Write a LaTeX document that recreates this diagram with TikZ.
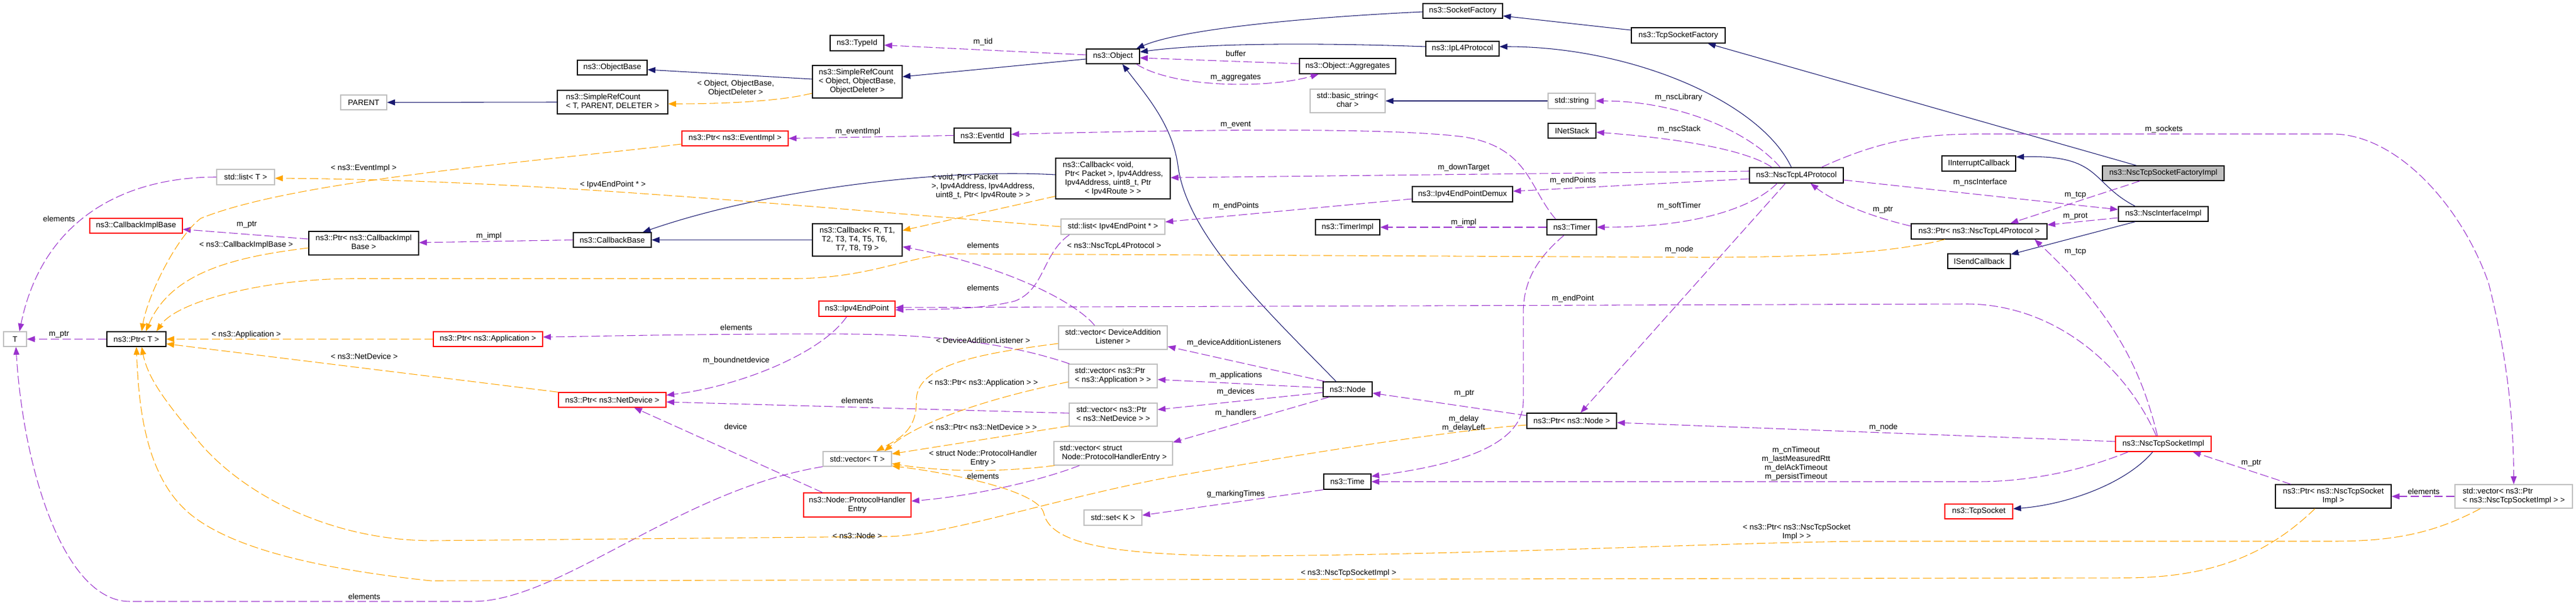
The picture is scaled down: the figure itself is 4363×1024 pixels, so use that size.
\documentclass[tikz,border=0pt]{standalone}
\usepackage{fontspec}
\setmainfont{Liberation Sans}
\usetikzlibrary{arrows.meta,calc}
\definecolor{inhc}{HTML}{191970}
\definecolor{usec}{HTML}{9A32CD}
\definecolor{tplc}{HTML}{FFA500}
\definecolor{grayb}{HTML}{BFBFBF}
\definecolor{redb}{HTML}{FF0000}
\newcommand\ml[1]{\begin{tabular}{@{}l@{}}#1\end{tabular}}
\newcommand\lc[1]{\multicolumn{1}{@{}c@{}}{#1}}
\newcommand\bx[7]{\node[#1, minimum width={(#5-#3)*0.75pt}, minimum height={(#6-#4)*0.75pt}] (#2) at ({(#3+#5)/2},{(#4+#6)/2}) {#7};}
\newcommand\lb[4]{\node[lbl] (#1) at (#2,#3) {#4};}
\begin{document}
\begin{tikzpicture}[x=0.75pt,y=-0.75pt,
 box/.style={draw=black, line width=1pt, fill=white, inner sep=1pt, font=\fontsize{10}{11.25}\selectfont, align=center},
 gbox/.style={box, draw=grayb},
 rbox/.style={box, draw=redb},
 tbox/.style={box, fill=grayb},
 lbl/.style={inner sep=0pt, font=\fontsize{10}{11.25}\selectfont, align=center},
 inher/.style={draw=inhc, line width=0.8pt, -{Triangle[length=10pt,width=7.5pt]}},
 usage/.style={draw=usec, line width=0.8pt, dash pattern=on 11pt off 4pt, -{Triangle[length=10pt,width=7.5pt]}},
 tmpl/.style={draw=tplc, line width=0.8pt, dash pattern=on 11pt off 4pt, -{Triangle[length=10pt,width=7.5pt]}}]
\fill[white] (0,0) rectangle (4363,1024);
\useasboundingbox (0,0) rectangle (4363,1024);
% ---------------- nodes
\bx{gbox}{T}{6}{562}{45}{587}{T}
\bx{box}{PtrT}{181}{562}{281}{587}{ns3::Ptr< T >}
\bx{gbox}{listT}{367}{287}{465}{313}{std::list< T >}
\bx{rbox}{CIB}{152}{370}{309}{395}{ns3::CallbackImplBase}
\bx{box}{PtrCIB}{523}{392}{709}{432}{\ml{ns3::Ptr< ns3::CallbackImpl\\\lc{Base >}}}
\bx{gbox}{PARENT}{577}{161}{655}{186}{PARENT}
\bx{rbox}{PtrApp}{734}{562}{919}{587}{ns3::Ptr< ns3::Application >}
\bx{box}{ObjectBase}{978}{102}{1096}{127}{ns3::ObjectBase}
\bx{box}{SRCT}{944}{153}{1131}{193}{\ml{ns3::SimpleRefCount\\\lc{< T, PARENT, DELETER >}}}
\bx{box}{CallbackBase}{971}{394}{1103}{419}{ns3::CallbackBase}
\bx{rbox}{PtrND}{946}{665}{1128}{690}{ns3::Ptr< ns3::NetDevice >}
\bx{rbox}{PtrEI}{1155}{222}{1335}{247}{ns3::Ptr< ns3::EventImpl >}
\bx{box}{TypeId}{1406}{60}{1497}{86}{ns3::TypeId}
\bx{box}{SRCO}{1376}{111}{1528}{166}{\ml{ns3::SimpleRefCount\\< Object, ObjectBase,\\\lc{ObjectDeleter >}}}
\bx{box}{CbR}{1376}{379}{1528}{434}{\ml{ns3::Callback< R, T1,\\\ T2, T3, T4, T5, T6,\\\lc{T7, T8, T9 >}}}
\bx{rbox}{IEP}{1387}{510}{1516}{536}{ns3::Ipv4EndPoint}
\bx{gbox}{vecT}{1394}{765}{1510}{790}{std::vector< T >}
\bx{rbox}{PHE}{1361}{835}{1543}{876}{\ml{ns3::Node::ProtocolHandler\\\lc{Entry}}}
\bx{box}{EventId}{1616}{217}{1712}{242}{ns3::EventId}
\bx{box}{Object}{1840}{83}{1930}{108}{ns3::Object}
\bx{box}{CbVoid}{1788}{268}{1982}{337}{\ml{ns3::Callback< void,\\\ Ptr< Packet >, Ipv4Address,\\\ Ipv4Address, uint8\_t, Ptr\\\lc{< Ipv4Route > >}}}
\bx{gbox}{listIEP}{1797}{371}{1973}{397}{std::list< Ipv4EndPoint * >}
\bx{gbox}{vecDAL}{1793}{552}{1977}{592}{\ml{std::vector< DeviceAddition\\\lc{Listener >}}}
\bx{gbox}{vecPA}{1810}{617}{1960}{657}{\ml{std::vector< ns3::Ptr\\\lc{< ns3::Application > >}}}
\bx{gbox}{vecPND}{1811}{683}{1960}{722}{\ml{std::vector< ns3::Ptr\\\lc{< ns3::NetDevice > >}}}
\bx{gbox}{vecPHE}{1785}{748}{1986}{788}{\ml{std::vector< struct\\\lc{\ Node::ProtocolHandlerEntry >}}}
\bx{gbox}{setK}{1836}{864}{1934}{890}{std::set< K >}
\bx{box}{SF}{2410}{6}{2545}{31}{ns3::SocketFactory}
\bx{box}{IpL4}{2415}{70}{2539}{95}{ns3::IpL4Protocol}
\bx{box}{Aggr}{2201}{99}{2364}{125}{ns3::Object::Aggregates}
\bx{gbox}{bstr}{2219}{151}{2346}{191}{\ml{std::basic\_string<\\\lc{char >}}}
\bx{gbox}{str}{2622}{158}{2702}{184}{std::string}
\bx{box}{INet}{2622}{209}{2703}{234}{INetStack}
\bx{box}{Demux}{2392}{316}{2562}{342}{ns3::Ipv4EndPointDemux}
\bx{box}{TimerImpl}{2228}{372}{2337}{398}{ns3::TimerImpl}
\bx{box}{Timer}{2620}{372}{2704}{398}{ns3::Timer}
\bx{box}{Node}{2241}{647}{2324}{672}{ns3::Node}
\bx{box}{PtrNode}{2586}{700}{2738}{726}{ns3::Ptr< ns3::Node >}
\bx{box}{Time}{2242}{803}{2322}{829}{ns3::Time}
\bx{box}{TcpSF}{2763}{47}{2922}{73}{ns3::TcpSocketFactory}
\bx{box}{NscL4}{2963}{284}{3122}{310}{ns3::NscTcpL4Protocol}
\bx{box}{IIC}{3289}{264}{3414}{290}{IInterruptCallback}
\bx{tbox}{Target}{3561}{281}{3767}{306}{ns3::NscTcpSocketFactoryImpl}
\bx{box}{NscIf}{3588}{350}{3740}{375}{ns3::NscInterfaceImpl}
\bx{box}{PtrL4}{3237}{379}{3467}{405}{ns3::Ptr< ns3::NscTcpL4Protocol >}
\bx{box}{ISend}{3299}{430}{3405}{455}{ISendCallback}
\bx{rbox}{NscSock}{3583}{739}{3745}{765}{ns3::NscTcpSocketImpl}
\bx{rbox}{TcpSock}{3294}{854}{3409}{879}{ns3::TcpSocket}
\bx{box}{PtrSock}{3854}{821}{4050}{861}{\ml{ns3::Ptr< ns3::NscTcpSocket\\\lc{Impl >}}}
\bx{gbox}{vecSock}{4158}{821}{4357}{861}{\ml{std::vector< ns3::Ptr\\\lc{< ns3::NscTcpSocketImpl > >}}}
% ---------------- inheritance
\draw[inher] (SRCT.west) -- (PARENT.east);
\draw[inher] ($(SRCO.west)+(0,-4.5)$) -- ($(ObjectBase.east)+(0,3.5)$);
\draw[inher] ($(Object.west)+(0,4.5)$) -- ($(SRCO.east)+(0,-8.5)$);
\draw[inher] ($(IpL4.west)+(0,-3.5)$) .. controls (2250,73) and (2050,72) .. ($(Object.east)+(0,-7.5)$);
\draw[inher] ($(SF.west)+(0,1.5)$) .. controls (2200,30) and (2000,50) .. ($(Object.north east)+(-6,0)$);
\draw[inher] ($(TcpSF.west)+(0,-9)$) -- ($(SF.east)+(0,8.5)$);
\draw[inher] ($(Target.north west)+(58,0)$) -- ($(TcpSF.south)+(50,0)$);
\draw[inher] ($(NscL4.north)+(-8.5,0)$) .. controls (2980,170) and (2760,79) .. ($(IpL4.east)+(0,-3.5)$);
\draw[inher] ($(CbVoid.west)+(0,-6.5)$) .. controls (1600,285) and (1300,320) .. ($(CallbackBase.north east)+(-15,0)$);
\draw[inher] (CbR.west) -- (CallbackBase.east);
\draw[inher] (str.west) -- (bstr.east);
\draw[inher] ($(Node.north)+(-19.5,0)$) .. controls (2150,530) and (2010,400) .. (1995,280) .. controls (1985,210) and (1940,160) .. ($(Object.south)+(16,0)$);
\draw[inher] ($(NscIf.north west)+(29,0)$) .. controls (3540,310) and (3560,262) .. ($(IIC.east)+(0,-11)$);
\draw[inher] ($(NscIf.south west)+(29,0)$) -- ($(ISend.east)+(0,-11.5)$);
\draw[inher] ($(NscSock.south)+(-18,0)$) .. controls (3600,820) and (3500,855) .. ($(TcpSock.east)+(0,-4.5)$);
% ---------------- usage
\draw[usage] (PtrT.west) -- (T.east);
\draw[usage] (listT.west) .. controls (200,300) and (70,380) .. ($(T.north)+(7.5,0)$);
\draw[usage] (vecT.south west) .. controls (1150,830) and (950,1019) .. (800,1019) -- (220,1019) .. controls (110,1019) and (40,800) .. ($(T.south)+(1.5,0)$);
\draw[usage] ($(PtrCIB.west)+(0,-7)$) -- ($(CIB.east)+(0,6)$);
\draw[usage] (CallbackBase.west) -- ($(PtrCIB.east)+(0,-1)$);
\draw[usage] ($(Object.west)+(0,-2.5)$) -- ($(TypeId.east)+(0,3.5)$);
\draw[usage] ($(Aggr.west)+(0,-4)$) -- ($(Object.east)+(0,2.5)$);
\draw[usage] ($(Object.south east)+(-6,0)$) .. controls (1990,150) and (2150,150) .. ($(Aggr.south west)+(33,0)$);
\draw[usage] (EventId.west) -- (PtrEI.east);
\draw[usage] ($(Timer.north)+(-27,0)$) .. controls (2590,320) and (2590,250) .. (2480,232) .. controls (2350,215) and (2000,220) .. ($(EventId.east)+(0,-2)$);
\draw[usage] ($(NscL4.west)+(0,-7)$) -- ($(CbVoid.east)+(0,-1.5)$);
\draw[usage] ($(Demux.west)+(0,8)$) -- ($(listIEP.east)+(0,-8)$);
\draw[usage] ($(NscL4.west)+(0,6)$) -- ($(Demux.east)+(0,-5)$);
\draw[usage] (Timer.west) -- (TimerImpl.east);
\draw[usage] ($(NscL4.south)+(-32.5,0)$) .. controls (2960,360) and (2850,385) .. (Timer.east);
\draw[usage] ($(NscL4.north)+(-27.5,0)$) .. controls (2960,220) and (2840,171) .. (str.east);
\draw[usage] ($(NscL4.north)+(-41.5,0)$) .. controls (2960,255) and (2850,235) .. ($(INet.east)+(0,2.5)$);
\draw[usage] ($(NscL4.south)+(-18.5,0)$) -- ($(PtrNode.north)+(15,0)$);
\draw[usage] ($(NscL4.north)+(42.5,0)$) .. controls (3180,240) and (3250,227) .. (3350,227) -- (3950,227) .. controls (4060,227) and (4170,350) .. (4215,480) .. controls (4245,600) and (4257,700) .. (vecSock.north);
\draw[usage] ($(NscL4.east)+(0,8)$) -- ($(NscIf.west)+(0,-7.5)$);
\draw[usage] ($(Target.south west)+(64,0)$) -- ($(PtrL4.north)+(53,0)$);
\draw[usage] ($(NscIf.west)+(0,6.5)$) -- ($(PtrL4.east)+(0,-11)$);
\draw[usage] ($(PtrL4.west)+(0,-9)$) .. controls (3180,370) and (3110,345) .. ($(NscL4.south)+(24,0)$);
\draw[usage] ($(NscSock.north)+(-10,0)$) .. controls (3630,640) and (3590,540) .. ($(PtrL4.south)+(94,0)$);
\draw[usage] ($(NscSock.north)+(-12,0)$) .. controls (3600,620) and (3480,515) .. (3330,515) -- ($(IEP.east)+(0,-2)$);
\draw[usage] ($(listIEP.south west)+(15,0)$) .. controls (1765,430) and (1770,490) .. (1719,510) .. controls (1660,525) and (1580,524) .. ($(IEP.east)+(0,2)$);
\draw[usage] ($(vecDAL.north)+(-31,0)$) .. controls (1820,510) and (1700,450) .. ($(CbR.east)+(0,11.5)$);
\draw[usage] ($(Node.north west)+(4,0)$) -- ($(vecDAL.east)+(0,15)$);
\draw[usage] ($(Node.west)+(0,-2.5)$) -- ($(vecPA.east)+(0,6)$);
\draw[usage] ($(Node.west)+(0,5.5)$) -- ($(vecPND.east)+(0,-8.5)$);
\draw[usage] ($(Node.south west)+(11,0)$) -- ($(vecPHE.north east)+(0,2)$);
\draw[usage] (Time.south west) -- ($(setK.east)+(0,-4)$);
\draw[usage] ($(vecPA.north west)+(2,0)$) .. controls (1720,585) and (1600,567) .. (1440,566) .. controls (1200,565) and (1000,570) .. ($(PtrApp.east)+(0,-3.5)$);
\draw[usage] ($(vecPND.west)+(0,-2.5)$) -- ($(PtrND.east)+(0,3.5)$);
\draw[usage] ($(IEP.south)+(-17.5,0)$) .. controls (1390,600) and (1250,655) .. ($(PtrND.east)+(0,-8)$);
\draw[usage] ($(PHE.north)+(-59,0)$) -- ($(PtrND.south)+(37,0)$);
\draw[usage] ($(vecPHE.south west)+(44,0)$) .. controls (1760,815) and (1650,840) .. ($(PHE.east)+(0,-6.5)$);
\draw[usage] ($(PtrNode.west)+(0,-9)$) -- ($(Node.east)+(0,6.5)$);
\draw[usage] ($(Timer.south)+(-13,0)$) .. controls (2600,440) and (2580,480) .. (2580,530) -- (2580,680) .. controls (2580,760) and (2450,790) .. ($(Time.east)+(0,-9)$);
\draw[usage] ($(NscSock.west)+(0,-4)$) -- ($(PtrNode.east)+(0,3)$);
\draw[usage] ($(NscSock.south west)+(22,0)$) .. controls (3520,800) and (3430,816) .. (3350,816) -- (Time.east);
\draw[usage] ($(PtrSock.north)+(-72,0)$) -- ($(NscSock.south)+(50,0)$);
\draw[usage] (vecSock.west) -- (PtrSock.east);
% ---------------- templates
\draw[tmpl] ($(SRCO.west)+(0,19.5)$) .. controls (1320,172) and (1220,176) .. ($(SRCT.east)+(0,3)$);
\draw[tmpl] ($(PtrEI.west)+(0,9.5)$) .. controls (900,275) and (500,305) .. (340,370) .. controls (300,400) and (250,500) .. ($(PtrT.north)+(9,0)$);
\draw[tmpl] ($(PtrCIB.west)+(0,8)$) .. controls (400,435) and (290,460) .. ($(PtrT.north)+(16,0)$);
\draw[tmpl] ($(PtrL4.south)+(-58,0)$) .. controls (3200,430) and (3050,436) .. (2880,436) -- (1620,430) .. controls (1540,432) and (1480,470) .. (1350,472) -- (600,472) .. controls (450,472) and (300,510) .. ($(PtrT.north)+(34,0)$);
\draw[tmpl] (PtrApp.west) -- (PtrT.east);
\draw[tmpl] (PtrND.north west) -- ($(PtrT.east)+(0,8)$);
\draw[tmpl] ($(PtrSock.south)+(-31,0)$) .. controls (3850,930) and (3760,979) .. (3600,979) -- (730,984) .. controls (550,965) and (380,930) .. (310,860) .. controls (250,800) and (235,700) .. (PtrT.south);
\draw[tmpl] ($(PtrNode.west)+(0,7)$) .. controls (2450,730) and (2200,770) .. (2000,805) .. controls (1800,840) and (1600,909) .. (1500,909) -- (730,916) .. controls (550,915) and (400,830) .. (330,740) .. controls (280,680) and (250,640) .. ($(PtrT.south)+(9,0)$);
\draw[tmpl] ($(CbVoid.west)+(0,30)$) -- ($(CbR.east)+(0,-16)$);
\draw[tmpl] (listIEP.west) .. controls (1300,345) and (900,305) .. ($(listT.east)+(0,2)$);
\draw[tmpl] ($(vecDAL.west)+(0,10)$) .. controls (1650,600) and (1550,620) .. (1552,680) .. controls (1553,730) and (1520,745) .. ($(vecT.north)+(32,0)$);
\draw[tmpl] ($(vecPA.west)+(0,10)$) .. controls (1650,680) and (1550,720) .. ($(vecT.north)+(46,0)$);
\draw[tmpl] ($(vecPND.south west)+(0,-1)$) -- ($(vecT.east)+(0,-8.5)$);
\draw[tmpl] ($(vecPHE.south west)+(2,0)$) .. controls (1700,800) and (1600,800) .. ($(vecT.east)+(0,8)$);
\draw[tmpl] ($(vecSock.south)+(-56.5,0)$) .. controls (4120,905) and (4050,917) .. (3950,917) -- (3150,917) .. controls (2900,920) and (2500,940) .. (2100,942) .. controls (1900,940) and (1780,925) .. (1768,870) .. controls (1760,830) and (1600,800) .. ($(vecT.east)+(0,12)$);
% ---------------- labels
\lb{l1}{100}{567}{m\_ptr}
\lb{l2}{100}{371}{elements}
\lb{l3}{617}{1011}{elements}
\lb{l4}{418}{381}{m\_ptr}
\lb{l5}{417}{415}{< ns3::CallbackImplBase >}
\lb{l6}{616}{285}{< ns3::EventImpl >}
\lb{l7}{417}{567}{< ns3::Application >}
\lb{l8}{617}{604}{< ns3::NetDevice >}
\lb{l9}{1246}{149.5}{< Object, ObjectBase,\\ObjectDeleter >}
\lb{l10}{828}{400}{m\_impl}
\lb{l11}{1038}{313}{< Ipv4EndPoint * >}
\lb{l12}{1453}{223}{m\_eventImpl}
\lb{l13}{1247}{555}{elements}
\lb{l14}{1247}{611}{m\_boundnetdevice}
\lb{l15}{1246}{723}{device}
\lb{l16}{1452}{679}{elements}
\lb{l17}{1452}{908}{< ns3::Node >}
\lb{l18}{1665}{71}{m\_tid}
\lb{l19}{2093}{91}{buffer}
\lb{l20}{2093}{132}{m\_aggregates}
\lb{l21}{2093}{212}{m\_event}
\lb{l22}{1665}{316}{\ml{< void, Ptr< Packet\\>, Ipv4Address, Ipv4Address,\\\lc{uint8\_t, Ptr< Ipv4Route > >}}}
\lb{l23}{2093}{349}{m\_endPoints}
\lb{l24}{1665}{416}{elements}
\lb{l25}{1887}{417}{< ns3::NscTcpL4Protocol >}
\lb{l26}{1665}{488}{elements}
\lb{l27}{1665}{577}{< DeviceAdditionListener >}
\lb{l28}{2090}{581}{m\_deviceAdditionListeners}
\lb{l29}{1665}{649}{< ns3::Ptr< ns3::Application > >}
\lb{l30}{2093}{636}{m\_applications}
\lb{l31}{2093}{664}{m\_devices}
\lb{l32}{1665}{724}{< ns3::Ptr< ns3::NetDevice > >}
\lb{l33}{2093}{700}{m\_handlers}
\lb{l34}{1665}{777}{< struct Node::ProtocolHandler\\Entry >}
\lb{l35}{1665}{807}{elements}
\lb{l36}{2093}{837}{g\_markingTimes}
\lb{l37}{2843}{165}{m\_nscLibrary}
\lb{l38}{2844}{219}{m\_nscStack}
\lb{l39}{2479}{284}{m\_downTarget}
\lb{l40}{2664}{306}{m\_endPoints}
\lb{l41}{2479}{377}{m\_impl}
\lb{l42}{2844}{349}{m\_softTimer}
\lb{l43}{2844}{423}{m\_node}
\lb{l44}{2664}{506}{m\_endPoint}
\lb{l45}{2480}{667}{m\_ptr}
\lb{l46}{2479}{717.5}{m\_delay\\m\_delayLeft}
\lb{l47}{2284}{971}{< ns3::NscTcpSocketImpl >}
\lb{l48}{3354}{309}{m\_nscInterface}
\lb{l49}{3515}{331}{m\_tcp}
\lb{l50}{3189}{356}{m\_ptr}
\lb{l51}{3515}{367}{m\_prot}
\lb{l52}{3515}{427}{m\_tcp}
\lb{l53}{3665}{219}{m\_sockets}
\lb{l54}{3190}{724}{m\_node}
\lb{l55}{3042}{785.5}{m\_cnTimeout\\m\_lastMeasuredRtt\\m\_delAckTimeout\\m\_persistTimeout}
\lb{l56}{3043}{901.5}{< ns3::Ptr< ns3::NscTcpSocket\\Impl > >}
\lb{l57}{3813}{785}{m\_ptr}
\lb{l58}{4105}{833}{elements}
\end{tikzpicture}
\end{document}
